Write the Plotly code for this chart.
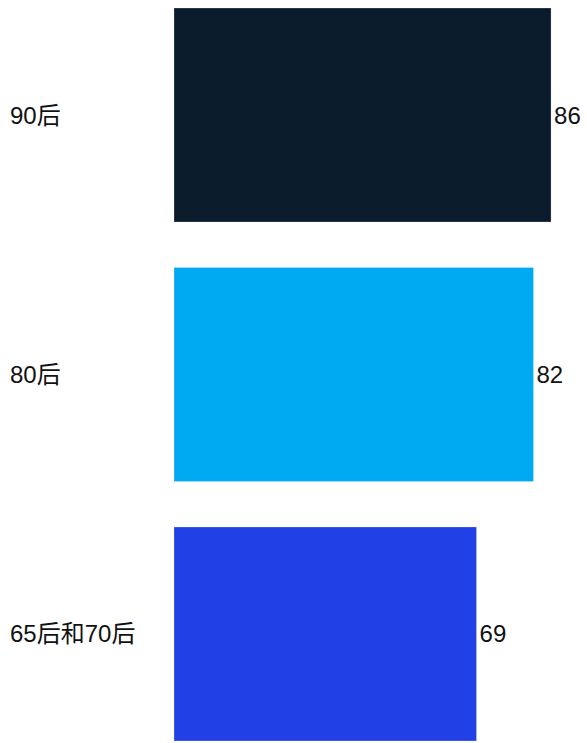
import plotly.graph_objects as go

# Generation groups and their scores
groups = ["90后", "80后", "65后和70后"]
scores = [86, 82, 69]
bar_colors = ["#0a1c2c", "#00aaf2", "#2140e6"]

FONT = "'Liberation Sans', Arial, 'Noto Sans CJK SC', sans-serif"

fig = go.Figure(
    go.Bar(
        x=scores,
        y=groups,
        orientation="h",
        marker=dict(color=bar_colors, line=dict(color="rgba(255,255,255,0.5)", width=0.5)),
        text=[str(v) for v in scores],
        textposition="outside",
        textfont=dict(size=24, color="#111111", family=FONT),
        cliponaxis=False,
        showlegend=False,
    )
)

# Left-aligned category labels in the left margin
for g in groups:
    fig.add_annotation(
        x=0, y=g, xref="paper", yref="y",
        text=g, showarrow=False,
        xanchor="left", xshift=-166,
        font=dict(size=24, color="#111111", family=FONT),
    )

fig.update_layout(
    width=587,
    height=743,
    margin=dict(l=174, r=0, t=8, b=2),
    paper_bgcolor="white",
    plot_bgcolor="white",
    bargap=0.175,
    xaxis=dict(range=[0, 94.2], visible=False),
    yaxis=dict(
        range=[2.4124, -0.4124],
        showticklabels=False,
        showgrid=False,
        zeroline=False,
        ticks="",
    ),
)

fig.write_html("out.html")
